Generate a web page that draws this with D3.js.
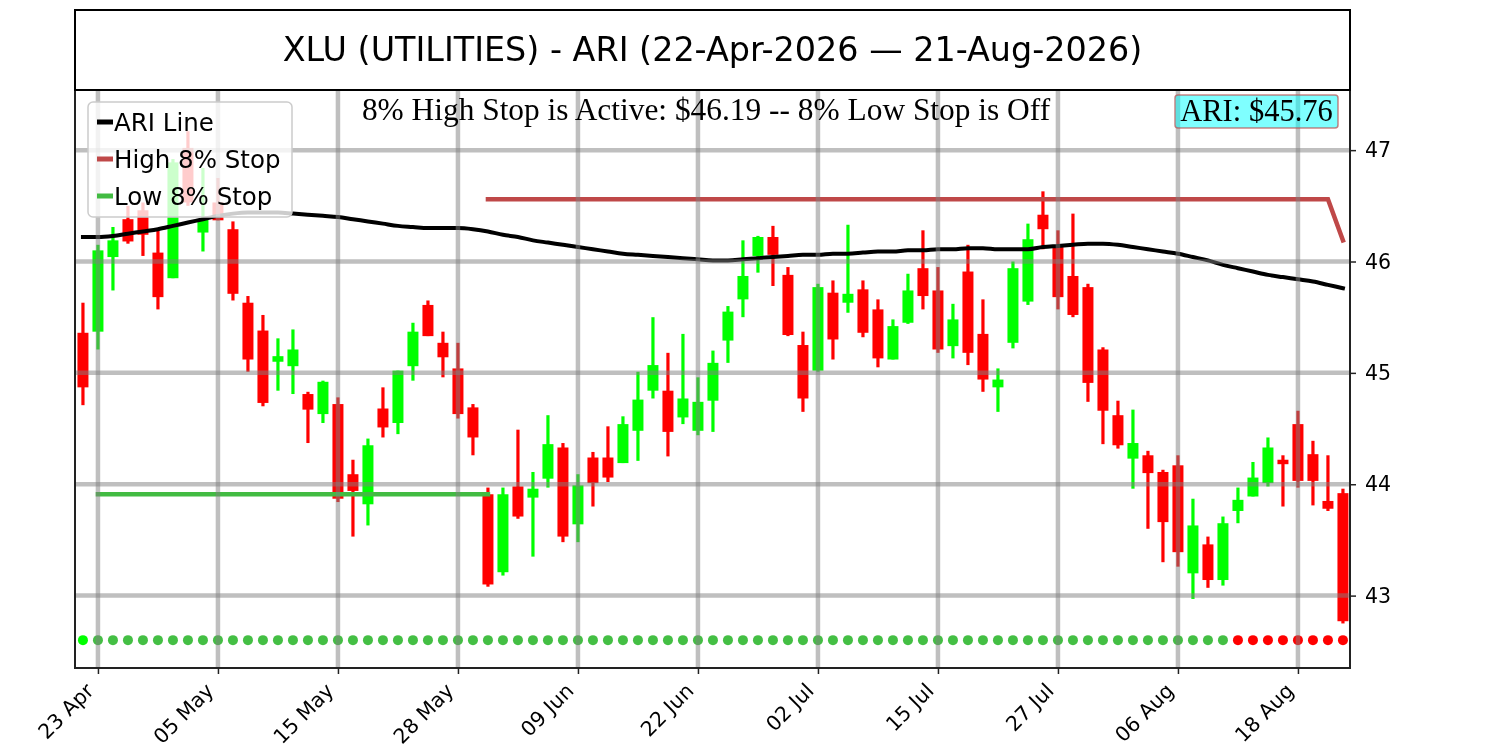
<!DOCTYPE html>
<head>
  <meta charset="utf-8">
  <script src="https://d3js.org/d3.v7.min.js"></script>
  <style>
    body { margin:0;position:fixed;top:0;right:0;bottom:0;left:0;background:#fff; }
    text { font-family: "DejaVu Sans", sans-serif; }
    .serif { font-family: "Liberation Serif", "Times New Roman", serif; }
  </style>
</head>

<body>
  <script>
    var width = 1500;
    var height = 750;

    // trading days 22 Apr 2026 .. 21 Aug 2026
    var dates = [
      "2026-04-22","2026-04-23","2026-04-24","2026-04-27","2026-04-28","2026-04-29","2026-04-30",
      "2026-05-01","2026-05-04","2026-05-05","2026-05-06","2026-05-07","2026-05-08","2026-05-11",
      "2026-05-12","2026-05-13","2026-05-14","2026-05-15","2026-05-18","2026-05-19","2026-05-20",
      "2026-05-21","2026-05-22","2026-05-26","2026-05-27","2026-05-28","2026-05-29",
      "2026-06-01","2026-06-02","2026-06-03","2026-06-04","2026-06-05","2026-06-08","2026-06-09",
      "2026-06-10","2026-06-11","2026-06-12","2026-06-15","2026-06-16","2026-06-17","2026-06-18",
      "2026-06-22","2026-06-23","2026-06-24","2026-06-25","2026-06-26","2026-06-29","2026-06-30",
      "2026-07-01","2026-07-02","2026-07-06","2026-07-07","2026-07-08","2026-07-09","2026-07-10",
      "2026-07-13","2026-07-14","2026-07-15","2026-07-16","2026-07-17","2026-07-20","2026-07-21",
      "2026-07-22","2026-07-23","2026-07-24","2026-07-27","2026-07-28","2026-07-29","2026-07-30",
      "2026-07-31","2026-08-03","2026-08-04","2026-08-05","2026-08-06","2026-08-07","2026-08-10",
      "2026-08-11","2026-08-12","2026-08-13","2026-08-14","2026-08-17","2026-08-18","2026-08-19",
      "2026-08-20","2026-08-21"
    ];

    var opens = [
      45.36,45.37,46.04,46.38,46.46,46.08,45.85,47.02,46.26,46.53,
      46.29,45.63,45.38,45.10,45.06,44.81,44.63,44.72,44.09,43.82,
      44.68,44.55,45.06,45.61,45.27,45.04,44.69,43.91,43.21,43.98,
      43.88,44.05,44.33,43.64,44.24,44.24,44.19,44.48,44.84,44.84,
      44.60,44.48,44.75,45.29,45.66,46.05,46.22,45.88,45.25,45.02,
      45.72,45.63,45.75,45.57,45.12,45.45,45.94,45.74,45.24,45.91,
      45.35,44.87,45.27,45.64,46.42,46.13,45.87,45.77,45.21,44.62,
      44.23,44.26,44.11,44.17,43.20,43.46,43.14,43.76,43.89,44.01,
      44.22,44.54,44.27,43.85,43.92
    ];
    var highs = [
      45.63,46.15,46.31,46.50,46.53,46.28,46.92,47.17,46.84,46.75,
      46.36,45.69,45.52,45.31,45.39,44.83,44.93,44.78,44.22,44.41,
      44.87,45.02,45.45,45.65,45.37,45.27,44.72,43.97,43.97,44.49,
      44.11,44.62,44.37,44.09,44.29,44.52,44.61,45.01,45.50,45.18,
      45.35,44.96,45.20,45.60,46.19,46.23,46.32,45.95,45.37,45.80,
      45.83,46.33,45.83,45.66,45.48,45.89,46.28,45.95,45.62,46.15,
      45.66,45.04,46.00,46.34,46.63,46.28,46.43,45.80,45.23,44.75,
      44.67,44.30,44.13,44.26,43.87,43.53,43.71,43.97,44.20,44.42,
      44.26,44.66,44.39,44.26,43.96
    ];
    var lows = [
      44.71,45.21,45.74,46.16,46.05,45.57,45.85,46.50,46.09,46.37,
      45.65,45.01,44.70,44.84,44.81,44.37,44.55,43.84,43.53,43.63,
      44.42,44.45,44.93,45.33,44.96,44.59,44.26,43.08,43.18,43.69,
      43.35,43.97,43.48,43.48,43.80,44.02,44.19,44.21,44.77,44.25,
      44.54,44.44,44.47,45.09,45.50,45.90,45.78,45.33,44.65,45.01,
      45.12,45.54,45.32,45.05,45.12,45.44,45.57,45.18,45.13,45.07,
      44.83,44.65,45.22,45.61,46.11,45.57,45.50,44.74,44.36,44.32,
      43.96,43.60,43.30,43.26,42.97,43.07,43.09,43.65,43.89,43.98,
      43.80,43.97,43.81,43.76,42.75
    ];
    var closes = [
      44.87,46.10,46.19,46.18,46.24,45.68,46.89,46.53,46.38,46.37,
      45.71,45.12,44.73,45.15,45.21,44.67,44.92,43.87,43.94,44.35,
      44.51,45.02,45.37,45.33,45.14,44.63,44.42,43.10,43.91,43.71,
      43.96,44.36,43.53,43.99,44.01,44.06,44.54,44.76,45.07,44.47,
      44.77,44.74,45.09,45.55,45.87,46.22,46.06,45.34,44.77,45.77,
      45.30,45.71,45.36,45.13,45.42,45.74,45.69,45.21,45.48,45.18,
      44.94,44.94,45.94,46.20,46.29,45.68,45.52,44.91,44.66,44.35,
      44.37,44.10,43.66,43.39,43.63,43.14,43.65,43.86,44.06,44.33,
      44.18,44.03,44.03,43.78,42.77
    ];

    var ariLine = [
      46.22,46.22,46.23,46.25,46.27,46.29,46.32,46.35,46.38,46.41,
      46.43,46.44,46.44,46.44,46.43,46.42,46.41,46.40,46.38,46.36,
      46.34,46.32,46.31,46.30,46.30,46.30,46.29,46.27,46.24,46.22,
      46.19,46.17,46.15,46.13,46.11,46.09,46.07,46.06,46.05,46.04,
      46.03,46.02,46.01,46.01,46.02,46.03,46.04,46.05,46.06,46.06,
      46.07,46.07,46.08,46.09,46.09,46.10,46.10,46.11,46.11,46.12,
      46.12,46.11,46.11,46.11,46.13,46.14,46.15,46.16,46.16,46.15,
      46.13,46.11,46.09,46.07,46.04,46.01,45.97,45.94,45.91,45.88,
      45.86,45.84,45.82,45.79,45.76
    ];

    // stop lines as vertices (day index, price)
    var highStopIdx = [27, 83, 84];
    var highStopVal = [46.56, 46.56, 46.19];
    var lowStopIdx = [1, 27];
    var lowStopVal = [43.91, 43.91];

    // daily signal dots, one char per day: N = new long, g = long, r = short
    var signals = [
      "Nggggggggg",
      "gggggggggg",
      "gggggggggg",
      "gggggggggg",
      "gggggggggg",
      "gggggggggg",
      "gggggggggg",
      "gggggggrrr",
      "rrrrr"
    ].join("");

    var yTicks = [43, 44, 45, 46, 47];
    var xTickIdx = [1, 9, 17, 25, 33, 41, 49, 57, 65, 73, 81];

    var titleText = "XLU (UTILITIES) - ARI (22-Apr-2026 \u2014 21-Aug-2026)";
    var statusText = "8% High Stop is Active: $46.19 -- 8% Low Stop is Off";
    var ariLabel = "ARI: $45.76";

    var margin = { left: 75, right: 150, top: 90, bottom: 82 };
    var plotR = width - margin.right;
    var plotB = height - margin.bottom;

    var svg = d3.select("body")
      .append("svg")
      .attr("width", width)
      .attr("height", height);

    var x = d3.scaleLinear().domain([-0.53, dates.length - 0.53]).range([margin.left, plotR]);
    var y = d3.scaleLinear().domain([42.35, 47.54]).range([plotB, margin.top]);

    svg.append("clipPath").attr("id", "clip")
      .append("rect")
      .attr("x", margin.left).attr("y", margin.top)
      .attr("width", plotR - margin.left).attr("height", plotB - margin.top);

    var plot = svg.append("g").attr("clip-path", "url(#clip)");

    var green = "#00ff00", red = "#ff0000";
    var candles = d3.range(dates.length).map(function(i) {
      return { i: i, o: opens[i], h: highs[i], l: lows[i], c: closes[i] };
    });
    var bodyW = 11;

    plot.selectAll(".wick")
      .data(candles).enter().append("line")
      .attr("class", "wick")
      .attr("x1", function(d) { return x(d.i); })
      .attr("x2", function(d) { return x(d.i); })
      .attr("y1", function(d) { return y(d.h); })
      .attr("y2", function(d) { return y(d.l); })
      .attr("stroke", function(d) { return d.c >= d.o ? green : red; })
      .attr("stroke-width", 3.2);

    plot.selectAll(".body")
      .data(candles).enter().append("rect")
      .attr("class", "body")
      .attr("x", function(d) { return x(d.i) - bodyW / 2; })
      .attr("width", bodyW)
      .attr("y", function(d) { return y(Math.max(d.o, d.c)); })
      .attr("height", function(d) { return Math.max(1.5, Math.abs(y(d.o) - y(d.c))); })
      .attr("fill", function(d) { return d.c >= d.o ? green : red; });

    // signal dots
    var dotLevel = 42.6;
    plot.selectAll(".dot")
      .data(signals.split("")).enter().append("circle")
      .attr("class", "dot")
      .attr("cx", function(d, i) { return x(i); })
      .attr("cy", y(dotLevel))
      .attr("r", 5)
      .attr("fill", function(d) { return d === "N" ? "#00ff00" : d === "g" ? "#44bf44" : "#ff0000"; });

    var line = d3.line()
      .x(function(d) { return x(d[0]); })
      .y(function(d) { return y(d[1]); });

    plot.append("path")
      .datum(lowStopIdx.map(function(d, k) { return [d, lowStopVal[k]]; }))
      .attr("d", line).attr("fill", "none")
      .attr("stroke", "#42bb42").attr("stroke-width", 4.5).attr("stroke-linecap", "square");

    plot.append("path")
      .datum(highStopIdx.map(function(d, k) { return [d, highStopVal[k]]; }))
      .attr("d", line).attr("fill", "none")
      .attr("stroke", "#bf4848").attr("stroke-width", 4.5).attr("stroke-linecap", "square");

    plot.append("path")
      .datum(ariLine.map(function(d, k) { return [k, d]; }))
      .attr("d", line.curve(d3.curveMonotoneX)).attr("fill", "none")
      .attr("stroke", "#000").attr("stroke-width", 4).attr("stroke-linecap", "square");

    // grid drawn over the marks, semi transparent
    var grid = svg.append("g").attr("clip-path", "url(#clip)")
      .attr("stroke", "#808080").attr("stroke-opacity", 0.5).attr("stroke-width", 4.5);
    grid.selectAll(".hg").data(yTicks).enter().append("line")
      .attr("x1", margin.left).attr("x2", plotR)
      .attr("y1", function(d) { return y(d); }).attr("y2", function(d) { return y(d); });
    grid.selectAll(".vg").data(xTickIdx).enter().append("line")
      .attr("y1", margin.top).attr("y2", plotB)
      .attr("x1", function(d) { return x(d); }).attr("x2", function(d) { return x(d); });

    // axes
    var fmt = d3.timeFormat("%d %b");
    var parse = d3.timeParse("%Y-%m-%d");
    var tickFont = "20.5px";

    var yAxis = svg.append("g")
      .attr("transform", "translate(" + plotR + ",0)")
      .call(d3.axisRight(y).tickValues(yTicks).tickSize(6).tickPadding(9).tickFormat(d3.format("d")));
    yAxis.attr("font-size", tickFont).attr("font-family", "DejaVu Sans");
    yAxis.select(".domain").remove();
    yAxis.selectAll("line").attr("stroke", "#222").attr("stroke-width", 1.5);
    yAxis.selectAll("text").style("font-size", tickFont).attr("fill", "#000");

    var xAxis = svg.append("g")
      .attr("transform", "translate(0," + plotB + ")")
      .call(d3.axisBottom(x).tickValues(xTickIdx).tickSize(6)
        .tickFormat(function(i) { return fmt(parse(dates[i])); }));
    xAxis.attr("font-size", tickFont).attr("font-family", "DejaVu Sans");
    xAxis.select(".domain").remove();
    xAxis.selectAll("line").attr("stroke", "#222").attr("stroke-width", 1.5);
    xAxis.selectAll("text")
      .style("font-size", tickFont).attr("fill", "#000")
      .attr("text-anchor", "end")
      .attr("dy", null).attr("y", 0)
      .attr("transform", "translate(-3.5,24) rotate(-45)");

    // spines + title box
    svg.append("rect")
      .attr("x", margin.left).attr("y", margin.top)
      .attr("width", plotR - margin.left).attr("height", plotB - margin.top)
      .attr("fill", "none").attr("stroke", "#222").attr("stroke-width", 2);

    svg.append("rect")
      .attr("x", margin.left).attr("y", 10)
      .attr("width", plotR - margin.left).attr("height", margin.top - 10)
      .attr("fill", "none").attr("stroke", "#000").attr("stroke-width", 2);

    svg.append("text")
      .attr("x", (margin.left + plotR) / 2).attr("y", 61)
      .attr("text-anchor", "middle")
      .style("font-size", "33.4px")
      .text(titleText);

    svg.append("text").attr("class", "serif")
      .attr("x", 706).attr("y", 120)
      .attr("text-anchor", "middle")
      .style("font-size", "31.4px")
      .text(statusText);

    // ARI value badge
    var badge = svg.append("g");
    badge.append("rect")
      .attr("x", 1175).attr("y", 95).attr("width", 163).attr("height", 33)
      .attr("rx", 3)
      .attr("fill", "#00ffff").attr("fill-opacity", 0.5)
      .attr("stroke", "#b85050").attr("stroke-opacity", 0.7).attr("stroke-width", 1.5);
    badge.append("text").attr("class", "serif")
      .attr("x", 1256.5).attr("y", 121)
      .attr("text-anchor", "middle")
      .style("font-size", "30.5px")
      .text(ariLabel);

    // legend
    var legendItems = [
      { label: "ARI Line", color: "#000" },
      { label: "High 8% Stop", color: "#bf4848" },
      { label: "Low 8% Stop", color: "#42bb42" }
    ];
    var lg = svg.append("g").attr("transform", "translate(88,102)");
    lg.append("rect")
      .attr("width", 204).attr("height", 115).attr("rx", 5)
      .attr("fill", "#fff").attr("fill-opacity", 0.8)
      .attr("stroke", "#ccc").attr("stroke-width", 1.5);
    var li = lg.selectAll(".li").data(legendItems).enter().append("g")
      .attr("transform", function(d, i) { return "translate(0," + (20 + i * 37) + ")"; });
    li.append("line")
      .attr("x1", 9).attr("x2", 25).attr("y1", 0).attr("y2", 0)
      .attr("stroke", function(d) { return d.color; }).attr("stroke-width", 5);
    li.append("text")
      .attr("x", 26).attr("y", 9)
      .style("font-size", "24.5px")
      .text(function(d) { return d.label; });
  </script>
</body>
